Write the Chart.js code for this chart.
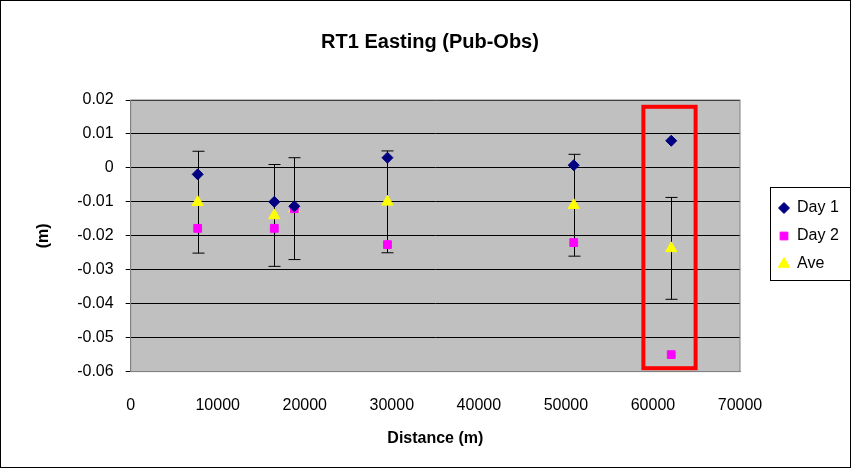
<!DOCTYPE html>
<html><head><meta charset="utf-8">
<script src="https://cdn.jsdelivr.net/npm/chart.js@4"></script>
<style>body{margin:0;background:#fff}canvas{display:block}</style>
</head><body>
<canvas id="c" width="851" height="468"></canvas>
<script>
// distances and offsets (m)
var distances = [7700, 16500, 18800, 29500, 50900, 62100];
var day1 = [-0.0019, -0.0100, -0.0113, 0.0030, 0.0008, 0.0080];
var day2 = [-0.0178, -0.0178, -0.0120, -0.0226, -0.0220, -0.0550];
var ave = [-0.0101, -0.0140, -0.0120, -0.0100, -0.0110, -0.0237];
var errPlus = [0.015, 0.015, 0.015, 0.015, 0.015, 0.015];
var highlight = [58900, 64900, 0.018, -0.059]; // x1,x2,yTop,yBottom
var chartTitle = 'RT1 Easting (Pub-Obs)';

function pts(ys){ return distances.map(function(d,i){ return {x:d, y:ys[i]}; }); }

var extras = {
  id: 'extras',
  beforeDraw: function(chart){
    var a = chart.chartArea, ctx = chart.ctx;
    ctx.save();
    ctx.fillStyle = '#fff'; ctx.fillRect(0,0,chart.width,chart.height);
    ctx.fillStyle = '#c0c0c0'; ctx.fillRect(a.left,a.top,a.right-a.left,a.bottom-a.top);
    ctx.restore();
  },
  beforeDatasetsDraw: function(chart){
    var ctx = chart.ctx, x = chart.scales.x, y = chart.scales.y;
    ctx.save();
    ctx.strokeStyle = '#000'; ctx.lineWidth = 1;
    distances.forEach(function(d,i){
      var px = Math.round(x.getPixelForValue(d))+0.5;
      var t = y.getPixelForValue(ave[i]+errPlus[i]), b = y.getPixelForValue(ave[i]-errPlus[i]);
      ctx.beginPath();
      ctx.moveTo(px,t); ctx.lineTo(px,b);
      ctx.moveTo(px-6,t); ctx.lineTo(px+6,t);
      ctx.moveTo(px-6,b); ctx.lineTo(px+6,b);
      ctx.stroke();
    });
    ctx.restore();
  },
  afterDraw: function(chart){
    var ctx = chart.ctx, x = chart.scales.x, y = chart.scales.y, a = chart.chartArea;
    ctx.save();
    ctx.strokeStyle = '#000'; ctx.lineWidth = 1;
    ctx.strokeRect(0.5,0.5,chart.width-1,chart.height-1);
    ctx.strokeStyle = '#808080';
    ctx.strokeRect(a.left,a.top,a.right-a.left,a.bottom-a.top);
    // title
    ctx.fillStyle = '#000'; ctx.textAlign = 'center'; ctx.textBaseline = 'middle';
    ctx.font = 'bold 20px "Liberation Sans"';
    ctx.fillText(chartTitle, 430, 42);
    // legend
    ctx.textAlign = 'left';
    ctx.strokeStyle = '#000';
    ctx.strokeRect(770.5,187.5,80,93);
    ctx.font = '16px "Liberation Sans"';
    chart.data.datasets.forEach(function(ds,i){
      var ly = 208 + i*28;
      ctx.fillStyle = ds.backgroundColor; ctx.strokeStyle = ds.borderColor;
      Chart.helpers.drawPoint(ctx, {pointStyle: ds.pointStyle, radius: ds.radius, borderWidth: 1}, 784, ly);
      ctx.fillStyle = '#000';
      ctx.fillText(ds.label, 797, ly);
    });
    ctx.strokeStyle = '#ff0000'; ctx.lineWidth = 4;
    var x1 = x.getPixelForValue(highlight[0]), x2 = x.getPixelForValue(highlight[1]);
    var y1 = y.getPixelForValue(highlight[2]), y2 = y.getPixelForValue(highlight[3]);
    ctx.strokeRect(x1,y1,x2-x1,y2-y1);
    ctx.restore();
  }
};

new Chart(document.getElementById('c').getContext('2d'), {
  type: 'scatter',
  data: { datasets: [
    {label:'Day 1', data: pts(day1), pointStyle:'rectRot', radius:5.5, backgroundColor:'#000080', borderColor:'#000080'},
    {label:'Day 2', data: pts(day2), pointStyle:'rect', radius:5.5, backgroundColor:'#ff00ff', borderColor:'#ff00ff'},
    {label:'Ave', data: pts(ave), pointStyle:'triangle', radius:6.5, backgroundColor:'#ffff00', borderColor:'#ffff00'}
  ]},
  plugins: [extras],
  options: {
    responsive: false, animation: false,
    layout: {padding: {left: 30, right: 111, top: 100, bottom: 16}},
    plugins: {
      title: {display: false},
      legend: {display: false},
      tooltip: {enabled: false}
    },
    scales: {
      x: {min: 0, max: 70000, ticks: {stepSize: 10000, padding: 19, color:'#000', font:{family:'Liberation Sans', size:16},
          callback: function(v){ return String(v); }},
        grid: {display: false, drawTicks: true, tickLength: 5, color:'#000'}, border:{color:'#808080'},
        title: {display: true, text: 'Distance (m)', color:'#000', padding: {top: -5}, font:{family:'Liberation Sans', size:16, weight:'bold'}}},
      y: {min: -0.06, max: 0.02, ticks: {stepSize: 0.01, padding: 12, color:'#000', font:{family:'Liberation Sans', size:16},
          callback: function(v){ return Math.abs(v)<1e-9 ? '0' : v.toFixed(2); }},
        grid: {color: '#000', tickLength: 5}, border:{color:'#808080'},
        title: {display: true, text: '(m)', color:'#000', padding: {bottom: 12}, font:{family:'Liberation Sans', size:16, weight:'bold'}}}
    }
  }
});
</script>
</body></html>
